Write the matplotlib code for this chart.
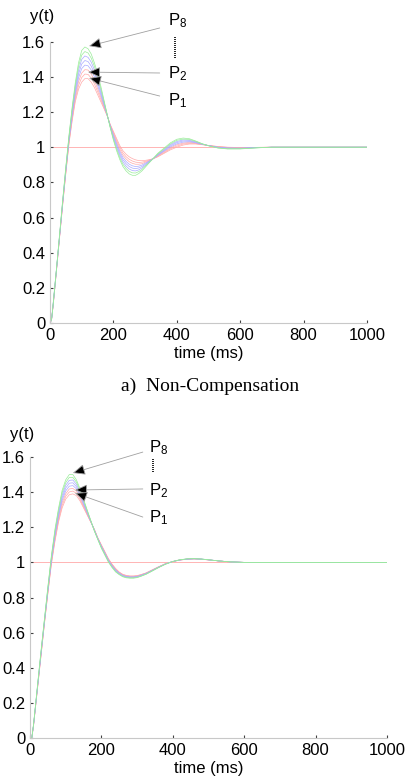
import matplotlib
matplotlib.use("Agg")
import matplotlib.pyplot as plt
import numpy as np

plt.rcParams["font.family"] = ["Liberation Sans", "DejaVu Sans"]
plt.rcParams["mathtext.fontset"] = "custom"
plt.rcParams["mathtext.rm"] = "Liberation Sans"
plt.rcParams["mathtext.it"] = "Liberation Sans"

# time axis (ms), shared by every curve
t_ms = [0, 5, 10, 20, 30, 40, 50, 60, 70, 80, 90, 100, 110, 120, 130, 140, 150,
        160, 170, 180, 190, 200, 210, 220, 230, 240, 250, 260, 270, 280, 290, 300,
        310, 325, 340, 360, 380, 400, 420, 440, 460, 480, 500, 530, 560, 600, 650,
        700, 1000]

# a) non-compensation, y(t) for P1..P8
nc_p1 = [0, 0.02, 0.10, 0.29, 0.48, 0.67, 0.85, 1.02, 1.15, 1.26, 1.33, 1.37, 1.39, 1.39, 1.37, 1.34, 1.30, 1.26, 1.22, 1.18, 1.13, 1.09, 1.05, 1.01, 0.98, 0.96, 0.945, 0.935, 0.928, 0.924, 0.923, 0.925, 0.928, 0.934, 0.945, 0.965, 0.985, 1.00, 1.012, 1.018, 1.018, 1.014, 1.01, 1.004, 1.00, 0.998, 0.999, 1.0, 1.0]
nc_p2 = [0, 0.02, 0.10, 0.29, 0.483, 0.674, 0.856, 1.027, 1.161, 1.276, 1.351, 1.396, 1.416, 1.414, 1.393, 1.360, 1.317, 1.273, 1.227, 1.181, 1.127, 1.083, 1.040, 0.999, 0.967, 0.946, 0.931, 0.921, 0.915, 0.913, 0.915, 0.919, 0.925, 0.934, 0.948, 0.969, 0.991, 1.006, 1.018, 1.022, 1.020, 1.015, 1.010, 1.003, 0.999, 0.997, 0.999, 1.0, 1.0]
nc_p3 = [0, 0.02, 0.10, 0.29, 0.486, 0.679, 0.861, 1.034, 1.173, 1.291, 1.373, 1.421, 1.441, 1.439, 1.416, 1.380, 1.334, 1.286, 1.234, 1.183, 1.124, 1.076, 1.030, 0.987, 0.954, 0.933, 0.917, 0.908, 0.903, 0.903, 0.906, 0.914, 0.921, 0.934, 0.951, 0.974, 0.996, 1.013, 1.023, 1.027, 1.023, 1.016, 1.009, 1.001, 0.997, 0.996, 0.998, 1.0, 1.0]
nc_p4 = [0, 0.02, 0.10, 0.29, 0.489, 0.683, 0.867, 1.041, 1.184, 1.307, 1.394, 1.447, 1.467, 1.463, 1.439, 1.400, 1.351, 1.299, 1.241, 1.184, 1.121, 1.069, 1.020, 0.976, 0.941, 0.919, 0.903, 0.894, 0.890, 0.892, 0.898, 0.908, 0.918, 0.934, 0.954, 0.978, 1.002, 1.019, 1.029, 1.031, 1.025, 1.017, 1.009, 1.000, 0.996, 0.995, 0.998, 1.0, 1.0]
nc_p5 = [0, 0.02, 0.11, 0.30, 0.491, 0.687, 0.873, 1.049, 1.196, 1.323, 1.416, 1.473, 1.493, 1.487, 1.461, 1.420, 1.369, 1.311, 1.249, 1.186, 1.119, 1.061, 1.010, 0.964, 0.929, 0.906, 0.890, 0.881, 0.878, 0.882, 0.890, 0.902, 0.915, 0.934, 0.956, 0.982, 1.008, 1.026, 1.035, 1.035, 1.028, 1.017, 1.009, 0.999, 0.994, 0.993, 0.997, 1.0, 1.0]
nc_p6 = [0, 0.02, 0.11, 0.30, 0.494, 0.691, 0.879, 1.056, 1.207, 1.339, 1.437, 1.499, 1.519, 1.511, 1.484, 1.440, 1.386, 1.324, 1.256, 1.187, 1.116, 1.054, 1.000, 0.953, 0.916, 0.892, 0.876, 0.867, 0.865, 0.871, 0.882, 0.896, 0.912, 0.934, 0.959, 0.986, 1.014, 1.032, 1.041, 1.039, 1.030, 1.018, 1.009, 0.998, 0.993, 0.992, 0.997, 1.0, 1.0]
nc_p7 = [0, 0.02, 0.11, 0.30, 0.497, 0.696, 0.884, 1.063, 1.219, 1.354, 1.459, 1.524, 1.544, 1.536, 1.507, 1.460, 1.403, 1.337, 1.263, 1.189, 1.113, 1.047, 0.990, 0.941, 0.903, 0.879, 0.862, 0.854, 0.853, 0.861, 0.873, 0.891, 0.908, 0.934, 0.962, 0.991, 1.019, 1.039, 1.046, 1.044, 1.033, 1.019, 1.008, 0.996, 0.991, 0.991, 0.996, 1.0, 1.0]
nc_p8 = [0, 0.02, 0.11, 0.30, 0.50, 0.70, 0.89, 1.07, 1.23, 1.37, 1.48, 1.55, 1.57, 1.56, 1.53, 1.48, 1.42, 1.35, 1.27, 1.19, 1.11, 1.04, 0.98, 0.93, 0.89, 0.865, 0.848, 0.84, 0.84, 0.85, 0.865, 0.885, 0.905, 0.935, 0.965, 0.995, 1.025, 1.045, 1.052, 1.048, 1.035, 1.02, 1.008, 0.995, 0.99, 0.99, 0.996, 1.0, 1.0]

# b) with compensation
c_p1 = [0, 0, 0.07, 0.26, 0.45, 0.64, 0.82, 0.99, 1.12, 1.23, 1.31, 1.36, 1.385, 1.39, 1.38, 1.35, 1.31, 1.27, 1.23, 1.19, 1.14, 1.10, 1.06, 1.02, 0.99, 0.965, 0.945, 0.932, 0.926, 0.923, 0.923, 0.925, 0.93, 0.94, 0.955, 0.975, 0.993, 1.005, 1.013, 1.018, 1.02, 1.018, 1.014, 1.008, 1.003, 1.0, 1.0, 1.0, 1.0]
c_p2 = [0, 0, 0.071, 0.263, 0.454, 0.644, 0.826, 0.997, 1.130, 1.241, 1.324, 1.376, 1.401, 1.406, 1.393, 1.360, 1.317, 1.274, 1.231, 1.189, 1.139, 1.097, 1.057, 1.017, 0.987, 0.962, 0.943, 0.930, 0.924, 0.921, 0.921, 0.923, 0.929, 0.939, 0.954, 0.974, 0.993, 1.005, 1.013, 1.018, 1.020, 1.018, 1.014, 1.008, 1.003, 1.0, 1.0, 1.0, 1.0]
c_p3 = [0, 0, 0.073, 0.266, 0.459, 0.649, 0.831, 1.004, 1.140, 1.253, 1.339, 1.391, 1.418, 1.421, 1.406, 1.370, 1.324, 1.279, 1.233, 1.187, 1.137, 1.094, 1.054, 1.014, 0.984, 0.959, 0.941, 0.928, 0.922, 0.919, 0.919, 0.922, 0.927, 0.938, 0.953, 0.974, 0.992, 1.005, 1.014, 1.019, 1.020, 1.018, 1.014, 1.008, 1.003, 1.0, 1.0, 1.0, 1.0]
c_p4 = [0, 0, 0.074, 0.269, 0.463, 0.653, 0.837, 1.011, 1.150, 1.264, 1.353, 1.407, 1.434, 1.437, 1.419, 1.380, 1.331, 1.283, 1.234, 1.186, 1.136, 1.091, 1.051, 1.011, 0.981, 0.956, 0.939, 0.926, 0.920, 0.917, 0.917, 0.920, 0.926, 0.937, 0.952, 0.973, 0.992, 1.005, 1.014, 1.019, 1.020, 1.018, 1.014, 1.008, 1.003, 1.0, 1.0, 1.0, 1.0]
c_p5 = [0, 0, 0.076, 0.271, 0.467, 0.657, 0.843, 1.019, 1.160, 1.276, 1.367, 1.423, 1.451, 1.453, 1.431, 1.390, 1.339, 1.287, 1.236, 1.184, 1.134, 1.089, 1.049, 1.009, 0.979, 0.954, 0.936, 0.924, 0.918, 0.916, 0.916, 0.918, 0.924, 0.935, 0.951, 0.972, 0.991, 1.005, 1.014, 1.019, 1.021, 1.019, 1.015, 1.008, 1.003, 1.0, 1.0, 1.0, 1.0]
c_p6 = [0, 0, 0.077, 0.274, 0.471, 0.661, 0.849, 1.026, 1.170, 1.287, 1.381, 1.439, 1.467, 1.469, 1.444, 1.400, 1.346, 1.291, 1.237, 1.183, 1.133, 1.086, 1.046, 1.006, 0.976, 0.951, 0.934, 0.922, 0.916, 0.914, 0.914, 0.916, 0.923, 0.934, 0.950, 0.971, 0.991, 1.005, 1.014, 1.019, 1.021, 1.019, 1.015, 1.008, 1.003, 1.0, 1.0, 1.0, 1.0]
c_p7 = [0, 0, 0.079, 0.277, 0.476, 0.666, 0.854, 1.033, 1.180, 1.299, 1.396, 1.454, 1.484, 1.484, 1.457, 1.410, 1.353, 1.296, 1.239, 1.181, 1.131, 1.083, 1.043, 1.003, 0.973, 0.948, 0.932, 0.920, 0.914, 0.912, 0.912, 0.915, 0.921, 0.933, 0.949, 0.971, 0.990, 1.005, 1.015, 1.020, 1.021, 1.019, 1.015, 1.008, 1.003, 1.0, 1.0, 1.0, 1.0]
c_p8 = [0, 0, 0.08, 0.28, 0.48, 0.67, 0.86, 1.04, 1.19, 1.31, 1.41, 1.47, 1.50, 1.50, 1.47, 1.42, 1.36, 1.30, 1.24, 1.18, 1.13, 1.08, 1.04, 1.00, 0.97, 0.945, 0.93, 0.918, 0.912, 0.91, 0.91, 0.913, 0.92, 0.932, 0.948, 0.97, 0.99, 1.005, 1.015, 1.02, 1.021, 1.019, 1.015, 1.008, 1.003, 1.0, 1.0, 1.0, 1.0]

y_ticks = [0, 0.2, 0.4, 0.6, 0.8, 1, 1.2, 1.4, 1.6]
y_ticklabels = ["0", "0.2", "0.4", "0.6", "0.8", "1", "1.2", "1.4", "1.6"]
x_ticks = [0, 200, 400, 600, 800, 1000]
curve_colors = ["#ffaaaa", "#ffaaaa", "#ffaaaa", "#aaaaff", "#aaaaff", "#aaaaff", "#9aec9a", "#9aec9a"]

W, H = 406, 782


def fig_box(left, top, right, bottom):
    # pixel box -> figure fraction
    return [left / W, 1 - bottom / H, (right - left) / W, (bottom - top) / H]


def style_axes(ax):
    ax.set_xlim(0, 1000)
    ax.set_ylim(0, 1.6)
    for s in ("top", "right"):
        ax.spines[s].set_visible(False)
    for s in ("left", "bottom"):
        ax.spines[s].set_color("#c8c8c8")
        ax.spines[s].set_linewidth(0.8)
    ax.set_xticks(x_ticks)
    ax.set_xticklabels([str(v) for v in x_ticks])
    ax.set_yticks(y_ticks)
    ax.set_yticklabels(y_ticklabels)
    ax.tick_params(direction="in", length=2, width=0.8, color="#404040",
                   labelsize=12, pad=3.5)
    ax.set_xlabel("time (ms)", fontsize=12, labelpad=2)


def draw_panel(ax, curves):
    ax.axhline(1, color="#ffb4b4", lw=0.7, zorder=1)
    for y, c in zip(curves, curve_colors):
        ax.plot(t_ms, y, color=c, lw=0.5, zorder=2)
    style_axes(ax)


def pointer(ax, tail, head):
    ax.annotate("", xy=head, xytext=tail, annotation_clip=False,
                arrowprops=dict(arrowstyle="-|>,head_length=0.75,head_width=0.33",
                                fc="black", ec="#a0a0a0", lw=0.6,
                                mutation_scale=10, shrinkA=0, shrinkB=0))


def p_label(ax, x, y, n):
    ax.text(x, y, "P$_{%s}$" % n, fontsize=12, ha="left", va="baseline",
            clip_on=False)


fig = plt.figure(figsize=(W / 100, H / 100), dpi=100)

ax1 = fig.add_axes(fig_box(50, 41.7, 367, 323))
draw_panel(ax1, [nc_p1, nc_p2, nc_p3, nc_p4, nc_p5, nc_p6, nc_p7, nc_p8])
pointer(ax1, (346, 1.678), (123, 1.575))
pointer(ax1, (346, 1.422), (120, 1.427))
pointer(ax1, (346, 1.291), (123, 1.393))
p_label(ax1, 372, 1.695, "8")
p_label(ax1, 372, 1.393, "2")
p_label(ax1, 372, 1.239, "1")
ax1.plot([394, 394], [1.505, 1.628], color="black", lw=1.2, ls=(0, (0.6, 0.6)),
         clip_on=False)
fig.text(30 / W, 1 - 17 / H, "y(t)", fontsize=12, ha="left", va="center")

fig.text(210 / W, 1 - 391 / H, "a)  Non-Compensation", fontsize=14,
         family=["Liberation Serif", "DejaVu Serif"], ha="center", va="baseline")

ax2 = fig.add_axes(fig_box(30, 457, 387, 738))
draw_panel(ax2, [c_p1, c_p2, c_p3, c_p4, c_p5, c_p6, c_p7, c_p8])
pointer(ax2, (316, 1.628), (120, 1.509))
pointer(ax2, (316, 1.418), (126, 1.412))
pointer(ax2, (316, 1.258), (126, 1.395))
p_label(ax2, 333, 1.625, "8")
p_label(ax2, 333, 1.38, "2")
p_label(ax2, 333, 1.230, "1")
ax2.plot([345, 345], [1.515, 1.595], color="black", lw=1.2, ls=(0, (0.6, 0.6)),
         clip_on=False)
fig.text(10 / W, 1 - 434 / H, "y(t)", fontsize=12, ha="left", va="center")

fig.savefig("out.png", dpi=100)
